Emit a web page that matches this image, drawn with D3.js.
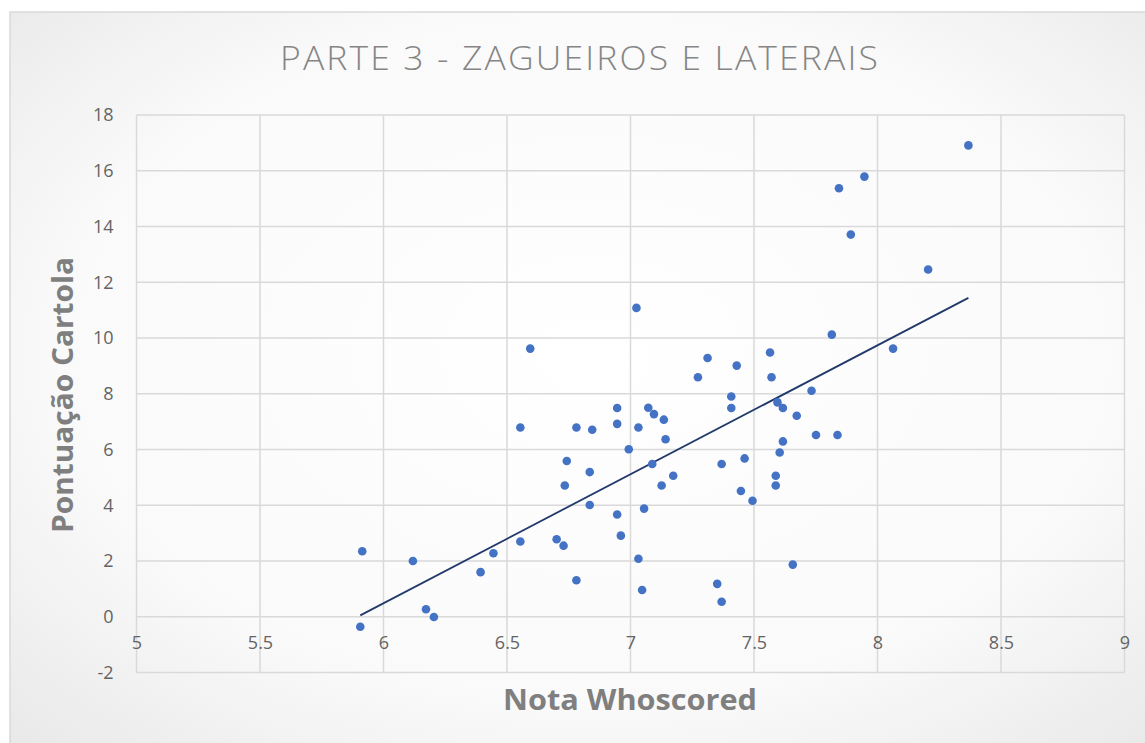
<!DOCTYPE html>
<html>
<head>
<meta charset="utf-8">
<script src="https://cdn.jsdelivr.net/npm/d3@7"></script>
<style>
  body { margin: 0; background: #fff; }
  svg { display: block; }
</style>
</head>
<body>
<div id="chart"></div>
<script>
// values
const notas = [5.914, 5.906, 6.119, 6.172, 6.204, 6.393, 6.445, 6.554, 6.554, 6.594,
  6.701, 6.729, 6.742, 6.734, 6.781, 6.781, 6.835, 6.835, 6.845, 6.946,
  6.946, 6.946, 6.961, 6.993, 7.024, 7.032, 7.032, 7.047, 7.055, 7.072,
  7.095, 7.135, 7.142, 7.088, 7.173, 7.126, 7.273, 7.312, 7.369, 7.351,
  7.369, 7.408, 7.408, 7.430, 7.462, 7.447, 7.494, 7.565, 7.571, 7.595,
  7.617, 7.588, 7.588, 7.604, 7.617, 7.657, 7.673, 7.733, 7.751, 7.838,
  7.815, 7.844, 7.892, 7.947, 8.063, 8.205, 8.368];
const pontos = [2.35, -0.36, 2.00, 0.27, -0.01, 1.60, 2.28, 2.70, 6.79, 9.62,
  2.78, 2.55, 5.59, 4.71, 6.79, 1.31, 5.19, 4.01, 6.71, 7.49,
  6.92, 3.67, 2.91, 6.01, 11.08, 6.79, 2.08, 0.96, 3.88, 7.50,
  7.27, 7.07, 6.37, 5.48, 5.06, 4.71, 8.59, 9.28, 5.48, 1.18,
  0.54, 7.90, 7.49, 9.01, 5.68, 4.51, 4.16, 9.48, 8.59, 7.69,
  7.49, 5.06, 4.71, 5.89, 6.29, 1.87, 7.21, 8.11, 6.52, 6.52,
  10.12, 15.37, 13.71, 15.79, 9.62, 12.46, 16.91];
const trendX = [5.906, 8.368];
const trendY = [0.05, 11.44];
const xTicks = [5, 5.5, 6, 6.5, 7, 7.5, 8, 8.5, 9];
const yTicks = [-2, 0, 2, 4, 6, 8, 10, 12, 14, 16, 18];

const W = 1145, H = 743;
const margin = { top: 115, right: 20.5, bottom: 70.5, left: 136.5 };

const svg = d3.select('#chart').append('svg')
  .attr('width', W)
  .attr('height', H);

// background gradient
const grad = svg.append('defs').append('radialGradient')
  .attr('id', 'bg')
  .attr('cx', '50%').attr('cy', '45%').attr('r', '75%');
grad.append('stop').attr('offset', '0%').attr('stop-color', '#ffffff');
grad.append('stop').attr('offset', '60%').attr('stop-color', '#fafafa');
grad.append('stop').attr('offset', '100%').attr('stop-color', '#e6e6e6');

svg.append('rect')
  .attr('x', 10).attr('y', 12)
  .attr('width', W + 20).attr('height', H + 20)
  .attr('fill', 'url(#bg)')
  .attr('stroke', '#d9d9d9')
  .attr('stroke-width', 1.5);

const x = d3.scaleLinear().domain([5, 9]).range([margin.left, W - margin.right]);
const y = d3.scaleLinear().domain([-2, 18]).range([H - margin.bottom, margin.top]);

// gridlines
const grid = svg.append('g')
  .attr('stroke', '#d9d9d9')
  .attr('stroke-width', 1.5);
grid.selectAll('line.v').data(xTicks).join('line')
  .attr('class', 'v')
  .attr('x1', d => x(d)).attr('x2', d => x(d))
  .attr('y1', y(18)).attr('y2', y(-2));
grid.selectAll('line.h').data(yTicks).join('line')
  .attr('class', 'h')
  .attr('x1', x(5)).attr('x2', x(9))
  .attr('y1', d => y(d)).attr('y2', d => y(d));

// axes labels (axis drawn through d3, domain and ticks hidden)
const yAxis = svg.append('g')
  .attr('transform', `translate(${x(5)},0)`)
  .call(d3.axisLeft(y).tickValues(yTicks).tickSize(0).tickPadding(23).tickFormat(d => String(d)));
const xAxis = svg.append('g')
  .attr('transform', `translate(0,${y(0)})`)
  .call(d3.axisBottom(x).tickValues(xTicks).tickSize(0).tickPadding(19).tickFormat(d => String(d)));
[yAxis, xAxis].forEach(a => {
  a.select('.domain').remove();
  a.selectAll('text')
    .attr('fill', '#646464')
    .style('font-family', '"Open Sans", sans-serif')
    .style('font-size', '18px');
});

// trendline
const line = d3.line()
  .x((d, i) => x(trendX[i]))
  .y(d => y(d));
svg.append('path')
  .datum(trendY)
  .attr('fill', 'none')
  .attr('stroke', '#22396b')
  .attr('stroke-width', 1.8)
  .attr('d', line);

// points
svg.append('g').selectAll('circle')
  .data(notas)
  .join('circle')
  .attr('cx', d => x(d))
  .attr('cy', (d, i) => y(pontos[i]))
  .attr('r', 4.3)
  .attr('fill', '#4472c4');

// titles
svg.append('text')
  .attr('x', 580).attr('y', 70)
  .attr('text-anchor', 'middle')
  .attr('textLength', 600)
  .attr('lengthAdjust', 'spacingAndGlyphs')
  .attr('fill', '#858585')
  .style('font-family', '"Open Sans", sans-serif')
  .style('font-weight', 300)
  .style('letter-spacing', '2px')
  .style('font-size', '33px')
  .text('PARTE 3 - ZAGUEIROS E LATERAIS');

svg.append('text')
  .attr('x', 630).attr('y', 710)
  .attr('text-anchor', 'middle')
  .attr('textLength', 254)
  .attr('lengthAdjust', 'spacingAndGlyphs')
  .attr('fill', '#7f7f7f')
  .style('font-family', '"Open Sans", sans-serif')
  .style('font-weight', 'bold')
  .style('font-size', '28px')
  .text('Nota Whoscored');

svg.append('text')
  .attr('transform', 'translate(73,395) rotate(-90)')
  .attr('text-anchor', 'middle')
  .attr('textLength', 276)
  .attr('lengthAdjust', 'spacingAndGlyphs')
  .attr('fill', '#7f7f7f')
  .style('font-family', '"Open Sans", sans-serif')
  .style('font-weight', 'bold')
  .style('font-size', '28px')
  .text('Pontuação Cartola');
</script>
</body>
</html>
